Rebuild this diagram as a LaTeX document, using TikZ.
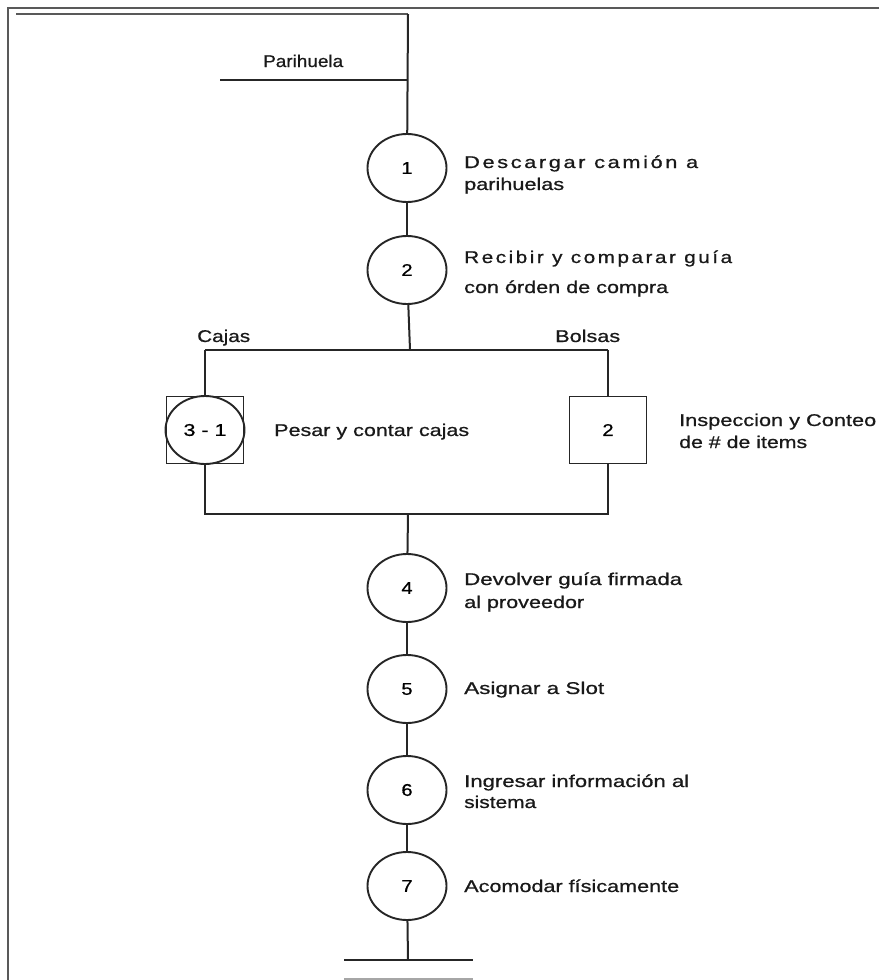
\documentclass[tikz,border=0pt]{standalone}
\usepackage{fontspec}
\setmainfont{Liberation Sans}
\newfontfamily\lblfont{Liberation Sans}[FakeBold=0.7]
\usetikzlibrary{shapes.geometric}
\newcommand{\fitw}[2]{\resizebox{#1pt}{\height}{#2}}
\newcommand{\sxx}[1]{\scalebox{1.18}[1]{#1}}
\begin{document}
\begin{tikzpicture}[x=1pt,y=-1pt,
  conn/.style={line width=2pt, draw=black!85},
  frame/.style={line width=2.4pt, draw=black!65},
  op/.style={ellipse, draw=black!85, line width=1.9pt, minimum width=79pt, minimum height=68pt, inner sep=0pt, font=\lblfont\fontsize{17}{20}\selectfont},
  insp/.style={rectangle, draw=black!85, line width=1.9pt, minimum width=77pt, minimum height=67pt, inner sep=0pt, font=\lblfont\fontsize{17}{20}\selectfont},
  lbl/.style={anchor=base west, inner sep=0pt, font=\lblfont\fontsize{17}{20}\selectfont, text=black!90}]
\useasboundingbox (0,0) rectangle (879,980);
% frame
\coordinate (ftl) at (8,8); \coordinate (ftr) at (879,8); \coordinate (fbl) at (8,980);
\draw[frame] (ftr) -- (ftl) -- (fbl);
\coordinate (itl) at (16,14); \coordinate (top) at (408,14);
\draw[frame] (itl) -- (top);
% parihuela
\coordinate (pl) at (220,80); \coordinate (pr) at (408,80);
\draw[conn] (pl) -- (pr);
\node[lbl] (tpar) at (263,67) {\fitw{80}{Parihuela}};
% operations
\node[op] (c1) at (407,168) {\sxx{1}};
\node[op] (c2) at (407,270) {\sxx{2}};
\coordinate (bt) at (410,350);
\coordinate (btl) at (205,350); \coordinate (btr) at (608,350);
\node[insp] (s31) at (205,430) {};
\node[op] (c31) at (205,430) {\fitw{43}{3 - 1}};
\node[insp] (s2) at (608,430) {\sxx{2}};
\coordinate (bbl) at (205,514); \coordinate (bbr) at (608,514); \coordinate (bb) at (408,514);
\node[op] (c4) at (407,588) {\sxx{4}};
\node[op] (c5) at (407,689) {\sxx{5}};
\node[op] (c6) at (407,790) {\sxx{6}};
\node[op] (c7) at (407,886) {\sxx{7}};
\coordinate (fin) at (408,960); \coordinate (el) at (344,960); \coordinate (er) at (473,960);
\coordinate (el2) at (344,979); \coordinate (er2) at (473,979);
% connectors
\draw[conn] (top) -- (c1);
\draw[conn] (c1) -- (c2);
\draw[conn] (c2) -- (bt);
\draw[conn] (btl) -- (btr);
\draw[conn] (btl) -- (s31);
\draw[conn] (btr) -- (s2);
\draw[conn] (s31) -- (bbl) -- (bbr) -- (s2);
\draw[conn] (bb) -- (c4);
\draw[conn] (c4) -- (c5);
\draw[conn] (c5) -- (c6);
\draw[conn] (c6) -- (c7);
\draw[conn] (c7) -- (fin);
\draw[conn] (el) -- (er);
\draw[line width=2pt, draw=black!35] (el2) -- (er2);
% labels
\node[lbl] (t1a) at (464,168) {\addfontfeature{LetterSpace=12}\fitw{234}{Descargar camión a}};
\node[lbl] (t1b) at (464,190) {\fitw{100}{parihuelas}};
\node[lbl] (t2a) at (464,263) {\addfontfeature{LetterSpace=12}\fitw{268}{Recibir y comparar guía}};
\node[lbl] (t2b) at (464,293) {\fitw{204}{con órden de compra}};
\node[lbl] (tcaj) at (197,342) {\fitw{53}{Cajas}};
\node[lbl] (tbol) at (555,342) {\fitw{65}{Bolsas}};
\node[lbl] (t31) at (274,436) {\fitw{195}{Pesar y contar cajas}};
\node[lbl] (tia) at (679,426) {\fitw{197}{Inspeccion y Conteo}};
\node[lbl] (tib) at (679,448) {\fitw{128}{de \# de items}};
\node[lbl] (t4a) at (464,585) {\fitw{218}{Devolver guía firmada}};
\node[lbl] (t4b) at (464,608) {\fitw{120}{al proveedor}};
\node[lbl] (t5) at (464,694) {\fitw{140}{Asignar a Slot}};
\node[lbl] (t6a) at (464,787) {\fitw{225}{Ingresar información al}};
\node[lbl] (t6b) at (464,808) {\fitw{72}{sistema}};
\node[lbl] (t7) at (464,892) {\fitw{215}{Acomodar físicamente}};
\end{tikzpicture}
\end{document}
